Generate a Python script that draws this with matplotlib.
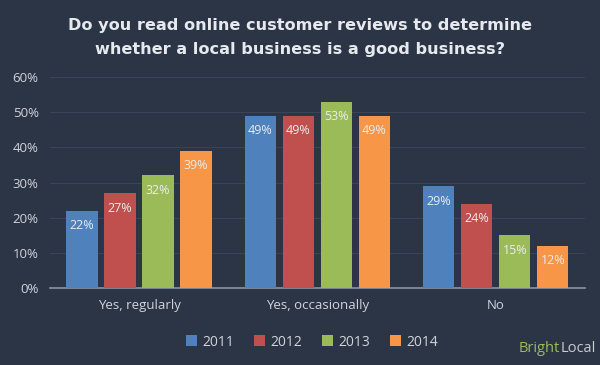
import matplotlib
matplotlib.use("Agg")
import matplotlib.pyplot as plt
import numpy as np

categories = ["Yes, regularly", "Yes, occasionally", "No"]
years = ["2011", "2012", "2013", "2014"]
values = {
    "2011": [22, 49, 29],
    "2012": [27, 49, 24],
    "2013": [32, 53, 15],
    "2014": [39, 49, 12],
}
colors = ["#4f81bd", "#c0504d", "#9bbb59", "#f79646"]
yticks = [0, 10, 20, 30, 40, 50, 60]

bg = "#2c3545"
txt = "#d0d4da"
plt.rcParams['font.family'] = ['Open Sans', 'DejaVu Sans']

fig = plt.figure(figsize=(6, 3.65), dpi=100, facecolor=bg)
ax = fig.add_axes([0.083, 0.211, 0.892, 0.578], facecolor=bg)

x = np.arange(len(categories))
bw = 0.174
step = 0.213
for i, (yr, c) in enumerate(zip(years, colors)):
    off = (i - 1.5) * step
    ax.bar(x + off, values[yr], width=bw, color=c, label=yr, zorder=3)
    for xb, v in zip(x + off, values[yr]):
        ax.text(xb, v - 4.3, f"{v}%", ha="center", va="center", color="#e8ecf0", fontsize=9, zorder=4)

ax.set_xlim(-0.5, 2.5)
ax.set_ylim(0, 60)
ax.set_yticks(yticks)
ax.set_yticklabels([f"{t}%" for t in yticks], color=txt, fontsize=9.5)
ax.set_xticks(x)
ax.set_xticklabels(categories, color=txt, fontsize=9.5)
ax.tick_params(axis="both", length=0, pad=8)
ax.grid(axis="y", color="#3a4456", linewidth=0.8, zorder=0)
for s in ["top", "right", "left"]:
    ax.spines[s].set_visible(False)
ax.spines["bottom"].set_color("#8a93a3")
ax.spines["bottom"].set_linewidth(1.2)

leg = fig.legend(loc="center", bbox_to_anchor=(0.52, 0.063), ncol=4, frameon=False,
                 fontsize=10, handlelength=0.8, handleheight=0.8, handletextpad=0.4, columnspacing=1.4)
for t in leg.get_texts():
    t.set_color(txt)

fig.text(0.5, 0.898, "Do you read online customer reviews to determine\nwhether a local business is a good business?",
         ha="center", va="center", color="#e6e9ee", fontsize=11.6, fontweight="bold",
         linespacing=1.75, family="DejaVu Sans")

t1 = fig.text(0.865, 0.045, "Bright", ha="left", va="center", color="#9bbb59", fontsize=10.5)
fig.canvas.draw()
bb = t1.get_window_extent(fig.canvas.get_renderer())
fig.text(bb.x1 / fig.bbox.width, 0.045, "Local", ha="left", va="center", color="#c8ccd2", fontsize=10.5)

fig.savefig("out.png", dpi=100, facecolor=bg)
